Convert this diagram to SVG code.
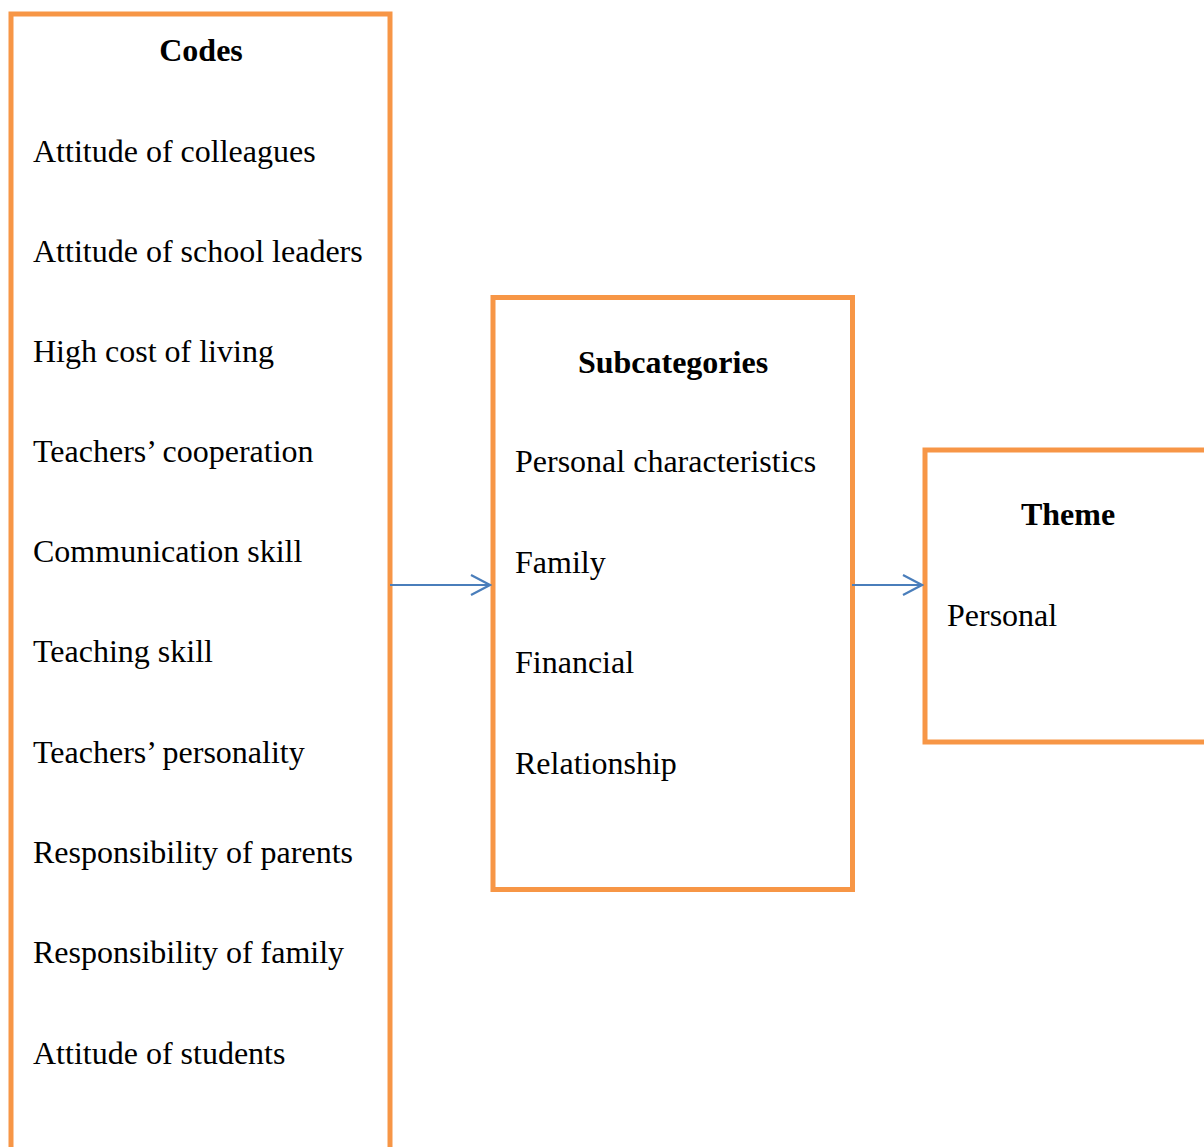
<svg xmlns="http://www.w3.org/2000/svg" width="1204" height="1147" viewBox="0 0 1204 1147">
<style>
.box{fill:#ffffff;stroke:#F79646;stroke-width:5}
.t{font-family:"Liberation Serif","Times New Roman",serif;font-size:32px;fill:#000}
.h{font-family:"Liberation Serif","Times New Roman",serif;font-size:32px;font-weight:bold;fill:#000;text-anchor:middle}
.c{stroke:#4A7EBB;stroke-width:2.2;fill:none}
</style>
<defs>
<marker id="arr" markerWidth="22" markerHeight="24" refX="20" refY="11" orient="auto" markerUnits="userSpaceOnUse">
<path d="M1,1 L20,11 L1,21" fill="none" stroke="#4A7EBB" stroke-width="2.2"/>
</marker>
</defs>
<rect width="1204" height="1147" fill="#ffffff"/>
<g id="codes">
<rect class="box" x="11" y="14" width="379" height="1160"/>
<text class="h" x="201" y="61">Codes</text>
<text class="t" x="33" y="162">Attitude of colleagues</text>
<text class="t" x="33" y="262">Attitude of school leaders</text>
<text class="t" x="33" y="362">High cost of living</text>
<text class="t" x="33" y="462">Teachers’ cooperation</text>
<text class="t" x="33" y="562">Communication skill</text>
<text class="t" x="33" y="662">Teaching skill</text>
<text class="t" x="33" y="763">Teachers’ personality</text>
<text class="t" x="33" y="863">Responsibility of parents</text>
<text class="t" x="33" y="963">Responsibility of family</text>
<text class="t" x="33" y="1064">Attitude of students</text>
</g>
<g id="subcategories">
<rect class="box" x="493" y="297.5" width="359.5" height="592"/>
<text class="h" x="673" y="373">Subcategories</text>
<text class="t" x="515" y="472">Personal characteristics</text>
<text class="t" x="515" y="573">Family</text>
<text class="t" x="515" y="673">Financial</text>
<text class="t" x="515" y="774">Relationship</text>
</g>
<g id="theme">
<rect class="box" x="925" y="450" width="290" height="292"/>
<text class="h" x="1068" y="525">Theme</text>
<text class="t" x="947" y="626">Personal</text>
</g>
<g id="connectors">
<line class="c" x1="390" y1="585" x2="490" y2="585" marker-end="url(#arr)"/>
<line class="c" x1="852" y1="585" x2="922" y2="585" marker-end="url(#arr)"/>
</g>
</svg>
